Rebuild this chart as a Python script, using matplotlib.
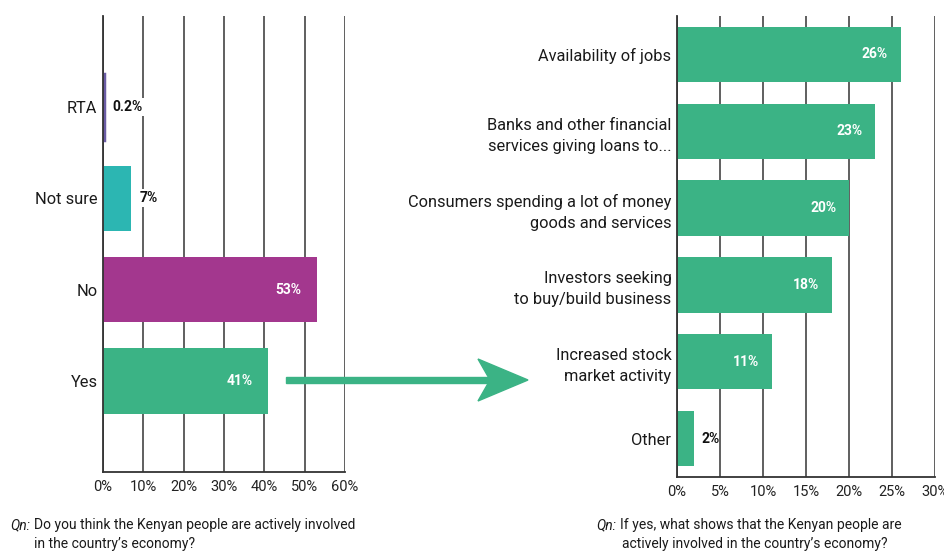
import matplotlib
matplotlib.use("Agg")
import matplotlib.pyplot as plt
from matplotlib.patches import Polygon, Rectangle

plt.rcParams['font.family'] = ['Roboto', 'DejaVu Sans']

# ---- data ----
left_cats = ["Yes", "No", "Not sure", "RTA"]
left_vals = [41, 53, 7, 0.2]
left_labels = ["41%", "53%", "7%", "0.2%"]
left_colors = ["#3BB385", "#A3378E", "#2CB6B2", "#6B5CA5"]
left_ticks = [0, 10, 20, 30, 40, 50, 60]

right_cats = ["Other", "Increased stock\nmarket activity", "Investors seeking\nto buy/build business",
              "Consumers spending a lot of money\ngoods and services",
              "Banks and other financial\nservices giving loans to...", "Availability of jobs"]
right_vals = [2, 11, 18, 20, 23, 26]
right_labels = ["2%", "11%", "18%", "20%", "23%", "26%"]
right_ticks = [0, 5, 10, 15, 20, 25, 30]
GREEN = "#3BB385"

W, H = 945, 553
fig = plt.figure(figsize=(W / 100, H / 100), dpi=100)

def ax_rect(x0, x1, y0, y1):
    return [x0 / W, 1 - y1 / H, (x1 - x0) / W, (y1 - y0) / H]

def style(ax, ticks, xmax):
    ax.set_xlim(0, xmax)
    ax.set_xticks(ticks)
    ax.set_xticklabels([f"{t}%" for t in ticks], fontsize=10.5, color="#222222")
    ax.tick_params(axis='x', length=0, pad=6)
    ax.tick_params(axis='y', length=0, pad=4, labelsize=11.8, labelcolor="#1a1a1a")
    for s in ["top", "right"]:
        ax.spines[s].set_visible(False)
    for s in ["left", "bottom"]:
        ax.spines[s].set_color("#333333")
        ax.spines[s].set_linewidth(1.3)
    ax.set_axisbelow(True)
    ax.grid(axis='x', color="#444444", linewidth=1.2)
    ax.grid(axis='y', visible=False)

# left chart
axL = fig.add_axes(ax_rect(103, 345, 16, 472))
yL = list(range(len(left_cats)))
axL.barh(yL, left_vals, height=0.72, color=left_colors, edgecolor=left_colors,
         linewidth=[0, 0, 0, 2.5])
axL.set_ylim(-1, 4)
axL.set_yticks(yL)
axL.set_yticklabels(left_cats)
style(axL, left_ticks, 60)
for y, v, lab in zip(yL, left_vals, left_labels):
    if v > 20:
        axL.annotate(lab, (v, y), xytext=(-11, 0), textcoords='offset points',
                     ha='right', va='center', color='white', fontsize=10, fontweight='bold')
    else:
        axL.annotate(lab, (v, y), xytext=(6, 0), textcoords='offset points',
                     ha='left', va='center', color='#111111', fontsize=10, fontweight='bold',
                     bbox=dict(boxstyle='square,pad=0.15', fc='white', ec='none'))

# right chart
axR = fig.add_axes(ax_rect(677, 935, 16, 477))
yR = list(range(len(right_cats)))
axR.barh(yR, right_vals, height=0.72, color=GREEN)
axR.set_ylim(-0.5, 5.5)
axR.set_yticks(yR)
axR.set_yticklabels(right_cats, linespacing=1.5)
style(axR, right_ticks, 30)
for y, v, lab in zip(yR, right_vals, right_labels):
    if v > 5:
        axR.annotate(lab, (v, y), xytext=(-9, 0), textcoords='offset points',
                     ha='right', va='center', color='white', fontsize=10, fontweight='bold')
    else:
        axR.annotate(lab, (v, y), xytext=(5, 0), textcoords='offset points',
                     ha='left', va='center', color='#111111', fontsize=10, fontweight='bold')

# arrow (figure pixel layout)
def P(x, y):
    return (x / W, 1 - y / H)

fig.patches.append(Rectangle(P(286, 382.7), (492 - 286) / W, 5.4 / H, transform=fig.transFigure,
                             color=GREEN, zorder=5))
fig.patches.append(Polygon([P(528, 380), P(478, 359), P(490, 380), P(478, 401)],
                           closed=True, transform=fig.transFigure, color=GREEN, zorder=6))

# captions
cap_fs = 10
fig.text(10 / W, 1 - 525 / H, "Qn:", fontsize=cap_fs, style='italic', va='center', color="#1a1a1a")
fig.text(34 / W, 1 - 525 / H, "Do you think the Kenyan people are actively involved",
         fontsize=cap_fs, va='center', color="#1a1a1a")
fig.text(34 / W, 1 - 544 / H, "in the country’s economy?", fontsize=cap_fs, va='center', color="#1a1a1a")

fig.text(596 / W, 1 - 525 / H, "Qn:", fontsize=cap_fs, style='italic', va='center', color="#1a1a1a")
fig.text(620 / W, 1 - 525 / H, "If yes, what shows that the Kenyan people are",
         fontsize=cap_fs, va='center', color="#1a1a1a")
fig.text(755 / W, 1 - 544 / H, "actively involved in the country’s economy?", fontsize=cap_fs,
         va='center', ha='center', color="#1a1a1a")

fig.savefig("out.png", dpi=100)
